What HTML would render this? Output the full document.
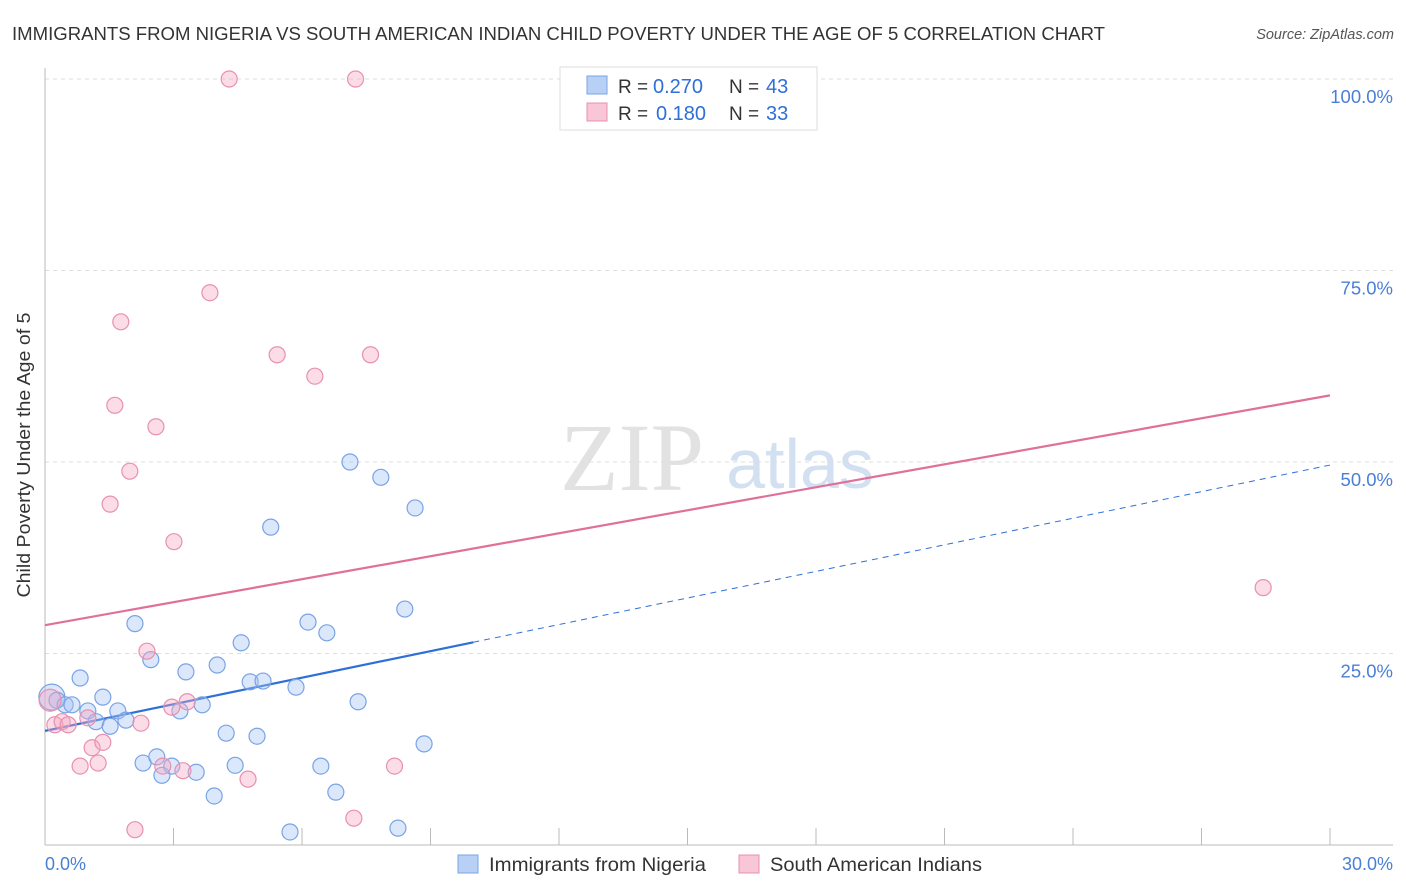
<!DOCTYPE html>
<html><head><meta charset="utf-8"><style>
body{margin:0;background:#fff;font-family:"Liberation Sans",sans-serif;}
svg{display:block}
</style></head><body>
<svg id="chart" width="1406" height="892" xmlns="http://www.w3.org/2000/svg">
<text x="12" y="40" font-size="18" fill="#333" textLength="1093" lengthAdjust="spacingAndGlyphs">IMMIGRANTS FROM NIGERIA VS SOUTH AMERICAN INDIAN CHILD POVERTY UNDER THE AGE OF 5 CORRELATION CHART</text>
<text x="1394" y="39" font-size="14.5" fill="#555" font-style="italic" text-anchor="end">Source: ZipAtlas.com</text>
<g>
<text x="632" y="490" font-size="96" fill="#e2e2e2" font-family="Liberation Serif,serif" text-anchor="middle">ZIP</text>
<text x="800" y="488" font-size="70" fill="#d3e0f2" text-anchor="middle">atlas</text>
</g>
<g id="grid"></g>
<g id="axes"></g>
<g id="lines"></g>
<g id="points"></g>
<text x="34" y="455" font-size="18" fill="#333" text-anchor="middle" textLength="285" lengthAdjust="spacingAndGlyphs" transform="rotate(-90 34 455)" dy="-4">Child Poverty Under the Age of 5</text>
<text x="45" y="870" font-size="18" fill="#4a7fd6">0.0%</text>
<text x="1393" y="870" font-size="18" fill="#4a7fd6" text-anchor="end">30.0%</text>
<g>
<rect x="560" y="67" width="257" height="63" fill="#fff" stroke="#ddd"/>
<rect x="587" y="76" width="20" height="18" fill="#b8d0f5" stroke="#7aa3e5"/>
<rect x="587" y="103" width="20" height="18" fill="#f8c6d7" stroke="#e890b0"/>
<text y="93" font-size="19" fill="#333"><tspan x="618">R =</tspan><tspan x="653" fill="#2e6fd8" font-size="20">0.270</tspan><tspan x="729">N =</tspan><tspan x="766" fill="#2e6fd8" font-size="20">43</tspan></text>
<text y="120" font-size="19" fill="#333"><tspan x="618">R =</tspan><tspan x="656" fill="#2e6fd8" font-size="20">0.180</tspan><tspan x="729">N =</tspan><tspan x="766" fill="#2e6fd8" font-size="20">33</tspan></text>
</g>
<g>
<rect x="458" y="855" width="20" height="18" fill="#b8d0f5" stroke="#7aa3e5"/>
<text x="489" y="871" font-size="19.5" fill="#333" textLength="217" lengthAdjust="spacingAndGlyphs">Immigrants from Nigeria</text>
<rect x="739" y="855" width="20" height="18" fill="#f8c6d7" stroke="#e890b0"/>
<text x="770" y="871" font-size="19.5" fill="#333" textLength="212" lengthAdjust="spacingAndGlyphs">South American Indians</text>
</g>
</svg>
<script>
const yTicks=[25,50,75,100];
const yTickLabels=["25.0%","50.0%","75.0%","100.0%"];
const xTicks=[0,3,6,9,12,15,18,21,24,27,30];
const blueX=[0.16,0.28,0.47,0.63,0.82,1.00,1.19,1.35,1.52,1.70,1.89,2.10,2.29,2.47,2.61,2.73,2.96,3.15,3.29,3.53,3.67,3.95,4.02,4.23,4.44,4.58,4.79,4.95,5.09,5.27,5.72,5.86,6.14,6.44,6.58,6.79,7.12,7.31,7.84,8.24,8.40,8.64,8.85];
const blueY=[19.3,18.9,18.3,18.3,21.8,17.5,16.1,19.3,15.5,17.5,16.3,28.9,10.7,24.2,11.5,9.1,10.3,17.5,22.6,9.5,18.3,6.4,23.5,14.6,10.4,26.4,21.3,14.2,21.4,41.5,1.7,20.6,29.1,10.3,27.7,6.9,50.0,18.7,48.0,2.2,30.8,44.0,13.2];
const pinkX=[0.12,0.23,0.40,0.54,0.82,1.00,1.10,1.24,1.35,1.52,1.63,1.77,1.98,2.10,2.24,2.38,2.59,2.75,2.96,3.01,3.22,3.32,3.85,4.30,4.74,5.42,6.30,7.21,7.25,7.60,8.16,28.44];
const pinkY=[18.9,15.7,16.1,15.7,10.3,16.6,12.7,10.7,13.4,44.5,57.4,68.3,48.8,2.0,15.9,25.3,54.6,10.3,18.0,39.6,9.7,18.7,72.1,100,8.6,64.0,61.2,3.5,100,64.0,10.3,33.6];
const blueLine=[14.9,49.6];
const blueSolidEnd=10;
const pinkLine=[28.7,58.7];
const NS="http://www.w3.org/2000/svg";
const X=v=>45+v/30*1285, Y=v=>845-v/100*766;
function mk(t,a,p){const e=document.createElementNS(NS,t);for(const k in a)e.setAttribute(k,a[k]);document.getElementById(p).appendChild(e);return e;}
yTicks.forEach((t,i)=>{
 const l=mk('line',{x1:45,x2:1393,y1:Y(t),y2:Y(t),stroke:'#ddd','stroke-dasharray':'4,4'},'grid');
 
 
 const tx=mk('text',{x:1393,y:Y(t)+24,'font-size':18.5,fill:'#4a7fd6','text-anchor':'end'},'grid');
 tx.textContent=yTickLabels[i];
 
 
});
const ax=mk('line',{x1:45,x2:1393,y1:845,y2:845,stroke:'#bbb'},'axes');


const ay=mk('line',{x1:45,x2:45,y1:68,y2:845,stroke:'#bbb'},'axes');


xTicks.forEach(t=>{
 const l=mk('line',{x1:X(t),x2:X(t),y1:828,y2:845,stroke:'#bbb'},'axes');
 
 
});
const ly=x=>blueLine[0]+(blueLine[1]-blueLine[0])*x/30;
const b1=mk('line',{x1:X(0),y1:Y(ly(0)),x2:X(blueSolidEnd),y2:Y(ly(blueSolidEnd)),stroke:'#2e6fd8','stroke-width':2.2},'lines');


const b2=mk('line',{x1:X(blueSolidEnd),y1:Y(ly(blueSolidEnd)),x2:X(30),y2:Y(ly(30)),stroke:'#2e6fd8','stroke-width':1,'stroke-dasharray':'6,5'},'lines');


const p1=mk('line',{x1:X(0),y1:Y(pinkLine[0]),x2:X(30),y2:Y(pinkLine[1]),stroke:'#e0709a','stroke-width':2.2},'lines');


blueX.forEach((x,i)=>{
 const c=mk('circle',{cx:X(x),cy:Y(blueY[i]),r:i==0?13:8,fill:'rgba(164,194,244,0.4)',stroke:'#7aa3e5','stroke-width':1.2},'points');
 
 
});
pinkX.forEach((x,i)=>{
 const c=mk('circle',{cx:X(x),cy:Y(pinkY[i]),r:i==0?11:8,fill:'rgba(244,168,196,0.4)',stroke:'#e890b0','stroke-width':1.2},'points');
 
 
});
</script>
</body></html>
